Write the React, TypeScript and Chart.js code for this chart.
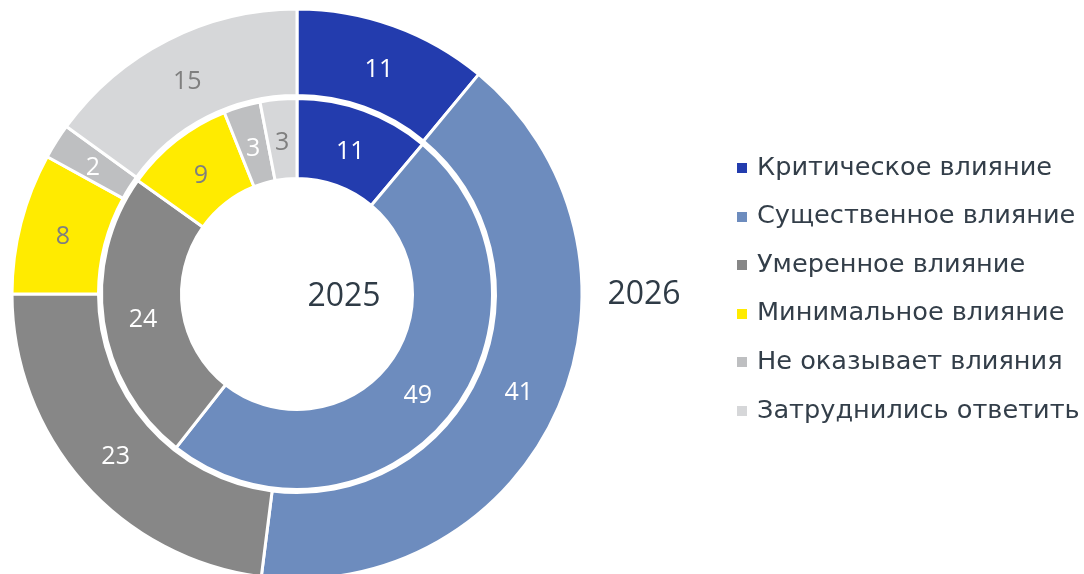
import React, { useEffect, useRef } from "react";
import { Chart, registerables } from "chart.js";

Chart.register(...registerables);

const categories = [
  "Критическое влияние",
  "Существенное влияние",
  "Умеренное влияние",
  "Минимальное влияние",
  "Не оказывает влияния",
  "Затруднились ответить",
];
const values2026 = [11, 41, 23, 8, 2, 15];
const values2025 = [11, 49, 24, 9, 3, 3];
const yearOuter = "2026";
const yearInner = "2025";

const colors = ["#233CAE", "#6D8CBE", "#878787", "#FFEB00", "#BEBFC1", "#D6D7D9"];
const labelColors = ["#FFFFFF", "#FFFFFF", "#FFFFFF", "#7F7F7F", "#FFFFFF", "#7F7F7F"];

const NUM_FONT = '"Open Sans", "Noto Sans", sans-serif';
const LEGEND_FONT = '"DejaVu Sans", Verdana, sans-serif';

const overlayPlugin = {
  id: "overlay",
  afterDatasetsDraw(chart: any) {
    const ctx = chart.ctx;
    ctx.save();
    // value labels
    [0, 2].forEach((di) => {
      const meta = chart.getDatasetMeta(di);
      const data = chart.data.datasets[di].data;
      meta.data.forEach((arc: any, i: number) => {
        const p = arc.getCenterPoint();
        ctx.font = `25px ${NUM_FONT}`;
        ctx.fillStyle = labelColors[i];
        ctx.textAlign = "center";
        ctx.textBaseline = "middle";
        ctx.fillText(String(data[i]), p.x, p.y + (di === 2 ? 4 : 3));
      });
    });
    // year labels
    const m0 = chart.getDatasetMeta(0);
    const a0 = m0.data[0];
    const cx = a0.x;
    const cy = a0.y;
    ctx.font = `32px ${NUM_FONT}`;
    ctx.fillStyle = "#2F3B46";
    ctx.textAlign = "center";
    ctx.textBaseline = "middle";
    ctx.fillText(yearInner, cx + 47, cy + 3);
    ctx.fillText(yearOuter, cx + 347, cy + 1);
    // legend
    const lx = 737;
    const ly = 167;
    const step = 48.6;
    chart.data.labels.forEach((lab: string, i: number) => {
      const y = ly + i * step;
      ctx.fillStyle = colors[i];
      ctx.fillRect(lx, Math.round(y - 4), 10, 10);
      ctx.font = `25.6px ${LEGEND_FONT}`;
      ctx.fillStyle = "#333E49";
      ctx.textAlign = "left";
      ctx.textBaseline = "middle";
      ctx.fillText(lab, lx + 20, y + 1);
    });
    ctx.restore();
  },
};

export default function App() {
  const ref = useRef<HTMLCanvasElement | null>(null);
  useEffect(() => {
    if (!ref.current) return;
    const chart = new Chart(ref.current, {
      type: "doughnut",
      data: {
        labels: categories,
        datasets: [
          {
            label: yearOuter,
            data: values2026,
            backgroundColor: colors,
            borderColor: "#FFFFFF",
            borderWidth: 3,
            weight: 86.5,
          },
          {
            label: "spacer",
            data: [1],
            backgroundColor: ["rgba(0,0,0,0)"],
            borderWidth: 0,
            weight: 3,
          },
          {
            label: yearInner,
            data: values2025,
            backgroundColor: colors,
            borderColor: "#FFFFFF",
            borderWidth: 3,
            weight: 80,
          },
        ],
      },
      options: {
        responsive: false,
        animation: false,
        radius: 285,
        cutout: "40.53%",
        layout: { padding: { left: 12, top: 9, right: 502, bottom: 11 } },
        plugins: {
          legend: { display: false },
          tooltip: { enabled: false },
          title: { display: false },
        },
        events: [],
      },
      plugins: [overlayPlugin],
    });
    return () => chart.destroy();
  }, []);
  return (
    <div style={{ position: "absolute", left: 0, top: 0, width: 1084, height: 574, overflow: "hidden", background: "#fff" }}>
      <canvas ref={ref} width={1084} height={590} style={{ width: 1084, height: 590, display: "block" }} />
    </div>
  );
}
